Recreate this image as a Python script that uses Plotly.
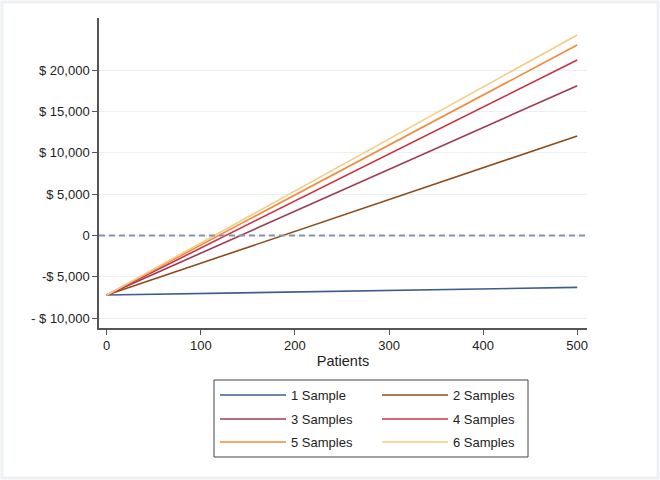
import plotly.graph_objects as go

patients = [0, 500]
series_names = ["1 Sample", "2 Samples", "3 Samples", "4 Samples", "5 Samples", "6 Samples"]
s1 = [-7200, -6270]
s2 = [-7200, 12040]
s3 = [-7200, 18120]
s4 = [-7200, 21230]
s5 = [-7200, 23040]
s6 = [-7200, 24250]
series_values = [s1, s2, s3, s4, s5, s6]
colors = ["#3e5d8f", "#8e4b1c", "#9c3b4f", "#cc3344", "#f08a3c", "#f3cd85"]

y_tickvals = [-10000, -5000, 0, 5000, 10000, 15000, 20000]
y_ticktext = ["- $ 10,000", "-$ 5,000", "0", "$ 5,000", "$ 10,000", "$ 15,000", "$ 20,000"]
x_tickvals = [0, 100, 200, 300, 400, 500]

FONT = "Liberation Sans, Arial, Helvetica, sans-serif"

fig = go.Figure()
legend_ids = ["legend", "legend", "legend2", "legend2", "legend3", "legend3"]
for name, vals, col, lg in zip(series_names, series_values, colors, legend_ids):
    fig.add_trace(go.Scatter(x=patients, y=vals, mode="lines", name=name,
                             line=dict(color=col, width=1.6), legend=lg))

L, R, T, B = 99, 73, 18, 152
W, H = 660, 480
pw, ph = W - L - R, H - T - B

def px_x(p):
    return (p - L) / pw

def px_y(p):
    return (H - B - p) / ph

leg_common = dict(orientation="h", bgcolor="rgba(0,0,0,0)", borderwidth=0,
                  font=dict(family=FONT, size=13, color="#222"),
                  itemwidth=66, entrywidth=81, xanchor="left", yanchor="middle",
                  x=px_x(215))
fig.update_layout(
    legend=dict(**leg_common, y=px_y(395)),
    legend2=dict(**leg_common, y=px_y(419)),
    legend3=dict(**leg_common, y=px_y(442)),
)

fig.update_layout(
    width=W, height=H,
    margin=dict(l=L, r=R, t=T, b=B),
    paper_bgcolor="white", plot_bgcolor="white",
    font=dict(family=FONT, size=13, color="#222"),
    showlegend=True,
    xaxis=dict(range=[-8.2, 510.4], tickvals=x_tickvals, ticks="outside", ticklen=5,
               tickcolor="#555", showline=True, linecolor="#555", linewidth=1.5,
               showgrid=False, zeroline=False, automargin=False,
               title=dict(text="Patients", font=dict(size=14.5, family=FONT, color="#222"), standoff=4),
               tickfont=dict(size=13, family=FONT, color="#222")),
    yaxis=dict(range=[-11190, 26310], tickvals=y_tickvals, ticktext=y_ticktext,
               ticks="outside", ticklen=5, tickcolor="#555", showline=True, linecolor="#555",
               linewidth=1.5, showgrid=True, gridcolor="#eaf0f3", gridwidth=1, zeroline=False,
               automargin=False,
               tickfont=dict(size=13, family=FONT, color="#222")),
    shapes=[
        dict(type="line", xref="paper", x0=0, x1=1, yref="y", y0=0, y1=0,
             line=dict(color="#8295ae", width=2, dash="6px,4px"), layer="above"),
        dict(type="rect", xref="paper", yref="paper",
             x0=px_x(214), x1=px_x(528), y0=px_y(380), y1=px_y(457),
             line=dict(color="#444", width=1), fillcolor="rgba(0,0,0,0)"),
        dict(type="rect", xref="paper", yref="paper",
             x0=px_x(2), x1=px_x(658), y0=px_y(2), y1=px_y(478),
             line=dict(color="#eef1f3", width=3), fillcolor="rgba(0,0,0,0)"),
    ],
)

fig.write_html("out.html", config={"displayModeBar": False},
               post_script="document.body.style.margin='0';")
